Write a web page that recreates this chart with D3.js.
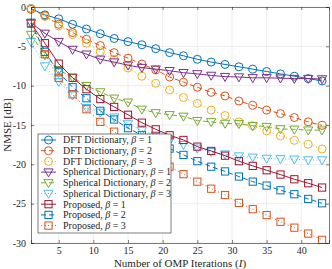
<!DOCTYPE html>
<html><head><meta charset="utf-8">
<script src="https://cdn.jsdelivr.net/npm/d3@7/dist/d3.min.js"></script>
<style>body{margin:0;background:#fff}svg{display:block;font-family:"Liberation Serif","DejaVu Serif",serif}</style>
</head><body><svg id="c" width="332" height="269"></svg>
<script>
const iters = [1,3,5,7,9,11,13,15,17,19,21,23,25,27,29,31,33,35,37,39,41,43];
const dft1 = [-0.2,-1.0,-1.5,-2.2,-2.8,-3.4,-4.0,-4.4,-4.8,-5.3,-5.8,-6.2,-6.65,-7.0,-7.3,-7.6,-7.9,-8.2,-8.5,-8.8,-9.1,-9.4];
const dft2 = [-0.3,-1.1,-2.2,-3.25,-4.1,-4.9,-5.8,-6.5,-7.25,-8.0,-8.9,-9.55,-10.2,-10.85,-11.3,-11.95,-12.5,-13.1,-13.55,-14.05,-14.6,-15.05];
const dft3 = [-0.2,-1.2,-2.4,-3.5,-4.6,-5.7,-6.65,-7.75,-8.8,-9.7,-10.55,-11.5,-12.25,-13.1,-13.8,-14.6,-15.1,-15.75,-16.4,-16.95,-17.45,-18.05];
const sph1 = [-2.0,-3.35,-4.4,-5.4,-6.0,-6.65,-7.0,-7.4,-7.7,-7.9,-8.1,-8.35,-8.5,-8.7,-8.85,-8.9,-9.0,-9.0,-9.05,-9.1,-9.1,-9.15];
const sph2 = [-3.5,-6.1,-8.0,-8.95,-10.0,-10.8,-11.6,-12.1,-13.0,-13.45,-13.7,-13.9,-14.45,-14.6,-14.8,-14.85,-15.1,-15.2,-15.5,-15.55,-15.65,-15.65];
const sph3 = [-4.4,-7.5,-9.5,-11.2,-12.8,-13.4,-14.0,-14.8,-15.7,-16.3,-17.0,-17.5,-17.95,-18.4,-18.7,-18.95,-19.1,-19.25,-19.3,-19.35,-19.45,-19.45];
const prop1 = [-2.1,-4.6,-7.2,-9.0,-10.45,-11.7,-12.7,-13.7,-14.7,-15.55,-16.3,-16.9,-17.75,-18.3,-18.9,-19.6,-20.2,-20.75,-21.3,-21.9,-22.4,-22.95];
const prop2 = [-2.0,-5.7,-8.3,-10.2,-11.6,-13.2,-14.3,-15.4,-16.3,-17.2,-18.0,-18.8,-19.6,-20.3,-20.9,-21.55,-22.2,-22.7,-23.3,-23.8,-24.4,-24.95];
const prop3 = [-2.1,-6.0,-9.0,-11.1,-13.0,-14.6,-15.85,-17.0,-18.1,-19.2,-20.3,-21.25,-22.2,-23.1,-23.9,-24.9,-25.7,-26.45,-27.3,-28.05,-28.8,-29.6];
const xTicks = [5,10,15,20,25,30,35,40];
const yTicks = [0,-5,-10,-15,-20,-25,-30];

const series = [
 {name:"DFT Dictionary", b:1, v:dft1, c:"#0072BD", m:"circle", d:null},
 {name:"DFT Dictionary", b:2, v:dft2, c:"#D95319", m:"circle", d:"5,3"},
 {name:"DFT Dictionary", b:3, v:dft3, c:"#EDB120", m:"circle", d:"1,2.5"},
 {name:"Spherical Dictionary", b:1, v:sph1, c:"#7E2F8E", m:"tri", d:null},
 {name:"Spherical Dictionary", b:2, v:sph2, c:"#77AC30", m:"tri", d:"5,3"},
 {name:"Spherical Dictionary", b:3, v:sph3, c:"#4DBEEE", m:"tri", d:"1,2.5"},
 {name:"Proposed", b:1, v:prop1, c:"#A2142F", m:"square", d:null},
 {name:"Proposed", b:2, v:prop2, c:"#0072BD", m:"square", d:"5,3"},
 {name:"Proposed", b:3, v:prop3, c:"#D95319", m:"square", d:"1,2.5"}
];

const svg = d3.select("#c");
const L=31, R=329, T=7, B=243;
const x = d3.scaleLinear().domain([1,44]).range([L,R]);
const y = d3.scaleLinear().domain([-30,0]).range([B,T]);

// grid
const g = svg.append("g");
g.selectAll(".gx").data(xTicks).join("line").attr("x1",d=>x(d)).attr("x2",d=>x(d)).attr("y1",T).attr("y2",B).attr("stroke","#e5e5e5").attr("stroke-width",0.7);
g.selectAll(".gy").data(yTicks).join("line").attr("y1",d=>y(d)).attr("y2",d=>y(d)).attr("x1",L).attr("x2",R).attr("stroke","#e5e5e5").attr("stroke-width",0.7);

function marker(sel, type, cx, cy, color){
  if(type==="circle") sel.append("circle").attr("cx",cx).attr("cy",cy).attr("r",4).attr("fill","none").attr("stroke",color).attr("stroke-width",1);
  else if(type==="square") sel.append("rect").attr("x",cx-3.6).attr("y",cy-3.6).attr("width",7.2).attr("height",7.2).attr("fill","none").attr("stroke",color).attr("stroke-width",1);
  else sel.append("path").attr("d",`M${cx-4.6},${cy-3.2}L${cx+4.6},${cy-3.2}L${cx},${cy+4.8}Z`).attr("fill","none").attr("stroke",color).attr("stroke-width",1);
}

const line = d3.line().x(d=>x(d[0])).y(d=>y(d[1]));
const plot = svg.append("g");
series.forEach(s=>{
  const pts = iters.map((it,i)=>[it,s.v[i]]);
  plot.append("path").attr("d",line(pts)).attr("fill","none").attr("stroke",s.c).attr("stroke-width",1).attr("stroke-dasharray",s.d);
  const mg = plot.append("g");
  pts.forEach(p=>marker(mg,s.m,x(p[0]),y(p[1]),s.c));
});

// axes
const ax = d3.axisBottom(x).tickValues(xTicks).tickSize(-3).tickPadding(4).tickFormat(d3.format("d"));
svg.append("g").attr("transform",`translate(0,${B})`).call(ax);
const ay = d3.axisLeft(y).tickValues(yTicks).tickSize(-3).tickPadding(5).tickFormat(d=>String(d).replace("−","-"));
svg.append("g").attr("transform",`translate(${L},0)`).call(ay);
const axTop = d3.axisTop(x).tickValues(xTicks).tickSize(-3).tickFormat("");
svg.append("g").attr("transform",`translate(0,${T})`).call(axTop);
const ayR = d3.axisRight(y).tickValues(yTicks).tickSize(-3).tickFormat("");
svg.append("g").attr("transform",`translate(${R},0)`).call(ayR);
svg.selectAll(".domain").attr("stroke","#262626").attr("stroke-width",0.6);
svg.selectAll(".tick line").attr("stroke","#262626").attr("stroke-width",0.6);
svg.selectAll(".tick text").attr("font-family","Liberation Serif").attr("font-size",10).attr("fill","#262626");

// labels
svg.append("text").attr("transform",`translate(11,${(T+B)/2}) rotate(-90)`).attr("text-anchor","middle").attr("font-size",11).attr("fill","#262626").text("NMSE [dB]");
const xl = svg.append("text").attr("x",(L+R)/2).attr("y",267).attr("text-anchor","middle").attr("font-size",11).attr("fill","#262626");
xl.append("tspan").text("Number of OMP Iterations (");
xl.append("tspan").attr("font-style","italic").text("I");
xl.append("tspan").text(")");

// legend
const lg = svg.append("g");
lg.append("rect").attr("x",38).attr("y",134).attr("width",133).attr("height",99).attr("fill","#fff").attr("stroke","#262626").attr("stroke-width",0.6);
series.forEach((s,i)=>{
  const yy = 140 + i*10.7;
  lg.append("line").attr("x1",41).attr("x2",56).attr("y1",yy).attr("y2",yy).attr("stroke",s.c).attr("stroke-width",1).attr("stroke-dasharray",s.d);
  marker(lg,s.m,48.5,yy,s.c);
  const t = lg.append("text").attr("x",63).attr("y",yy+3.3).attr("font-size",10).attr("fill","#262626");
  t.append("tspan").text(s.name+", ");
  t.append("tspan").attr("font-style","italic").text("β");
  t.append("tspan").text(" = "+s.b);
});
</script></body></html>
